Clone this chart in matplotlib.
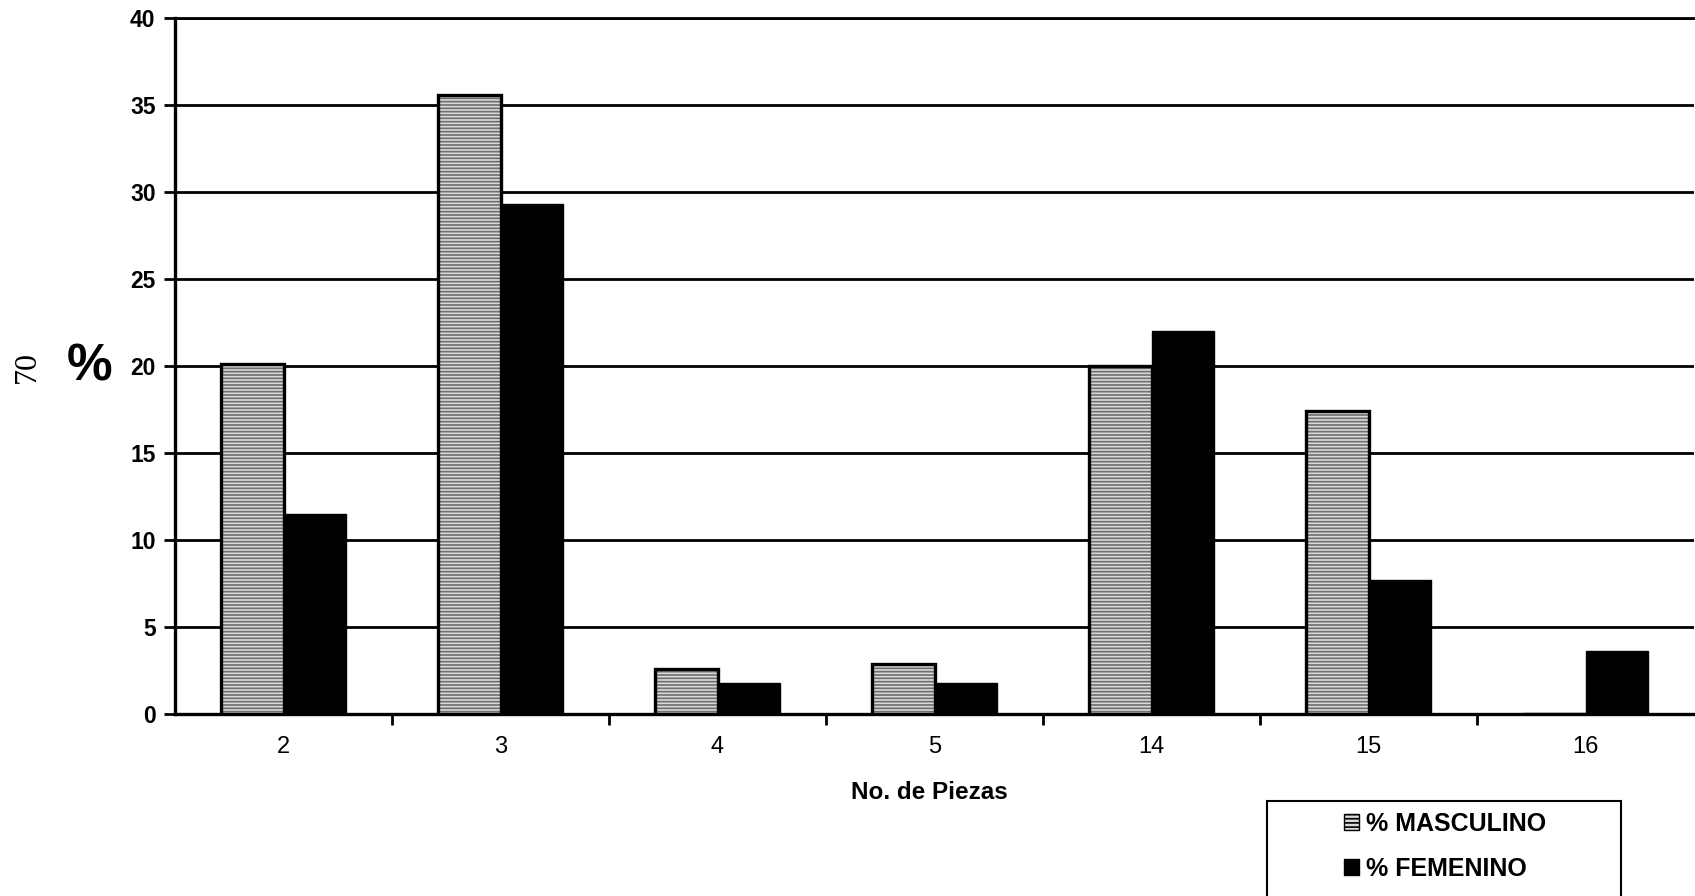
import matplotlib
matplotlib.use("Agg")
import matplotlib.pyplot as plt
from matplotlib.patches import Patch, Rectangle
import numpy as np

# Number of pieces (categories) and percentages per sex
piezas = ["2", "3", "4", "5", "14", "15", "16"]
masculino = [20.1, 35.6, 2.6, 2.9, 20.0, 17.4, 0.0]
femenino = [11.5, 29.3, 1.8, 1.8, 22.0, 7.7, 3.6]
yticks = [0, 5, 10, 15, 20, 25, 30, 35, 40]

plt.rcParams["font.family"] = ["Liberation Sans", "DejaVu Sans"]
plt.rcParams["hatch.linewidth"] = 1.2

W, H = 1695, 896
fig = plt.figure(figsize=(W / 100, H / 100), dpi=100)
ax = fig.add_axes([175 / W, 1 - 714 / H, 1519 / W, (714 - 18) / H])

x = np.arange(len(piezas))
bw = 0.286

# patterned grey bars for men: fill + hatch, then a black outline on top
ax.bar(x - bw / 2, masculino, bw, color="#d9d9d9", edgecolor="#6e6e6e",
       hatch="-----", linewidth=0, zorder=3)
ax.bar(x - bw / 2, masculino, bw, fill=False, edgecolor="black",
       linewidth=2.4, zorder=4)
# solid black bars for women
ax.bar(x + bw / 2, femenino, bw, color="black", edgecolor="black",
       linewidth=1, zorder=3)

ax.set_xlim(-0.5, len(piezas) - 0.5)
ax.set_ylim(0, 40)
ax.set_yticks(yticks)
ax.set_yticklabels([str(v) for v in yticks], fontsize=16.5, fontweight="bold")
ax.yaxis.grid(True, color="black", linewidth=2.0, zorder=1)
ax.set_axisbelow(True)

# boundary ticks between categories, labels centred on each category
ax.set_xticks(np.arange(0.5, len(piezas) - 0.5, 1.0))
ax.set_xticklabels([])
ax.set_xticks(x, minor=True)
ax.set_xticklabels(piezas, minor=True, fontsize=17)
ax.tick_params(axis="x", which="major", length=8, width=2, direction="out")
ax.tick_params(axis="x", which="minor", length=0, pad=16)
ax.tick_params(axis="y", length=8, width=2, direction="out", pad=6)

ax.spines["right"].set_visible(False)
ax.spines["left"].set_linewidth(2.4)
ax.spines["bottom"].set_linewidth(2.4)
ax.spines["top"].set_linewidth(2.0)

fig.text(929 / W, 1 - 792 / H, "No. de Piezas", ha="center", va="center",
         fontsize=17.5, fontweight="bold")
fig.text(90 / W, 1 - 367 / H, "%", ha="center", va="center",
         fontsize=37, fontweight="bold")
fig.text(27 / W, 1 - 367 / H, "70", ha="center", va="center",
         fontsize=23, rotation=90, family=["Liberation Serif", "DejaVu Serif"])

# legend box running off the lower edge of the page
fig.patches.append(Rectangle((1267 / W, -0.05), (1621 - 1267) / W,
                             (0.05 + 1 - 801 / H), transform=fig.transFigure,
                             fill=False, edgecolor="black", linewidth=1.5))
handles = [Patch(facecolor="#d9d9d9", edgecolor="black", hatch="----",
                 linewidth=1),
           Patch(facecolor="black", edgecolor="black")]
fig.legend(handles, ["% MASCULINO", "% FEMENINO"], loc="upper left",
           bbox_to_anchor=(1331 / W, 1 - 799 / H), bbox_transform=fig.transFigure,
           frameon=False, borderpad=0, handlelength=0.6, handleheight=0.6,
           handletextpad=0.3, labelspacing=0.86,
           prop={"size": 18, "weight": "bold"})

fig.savefig("out.png", dpi=100)
